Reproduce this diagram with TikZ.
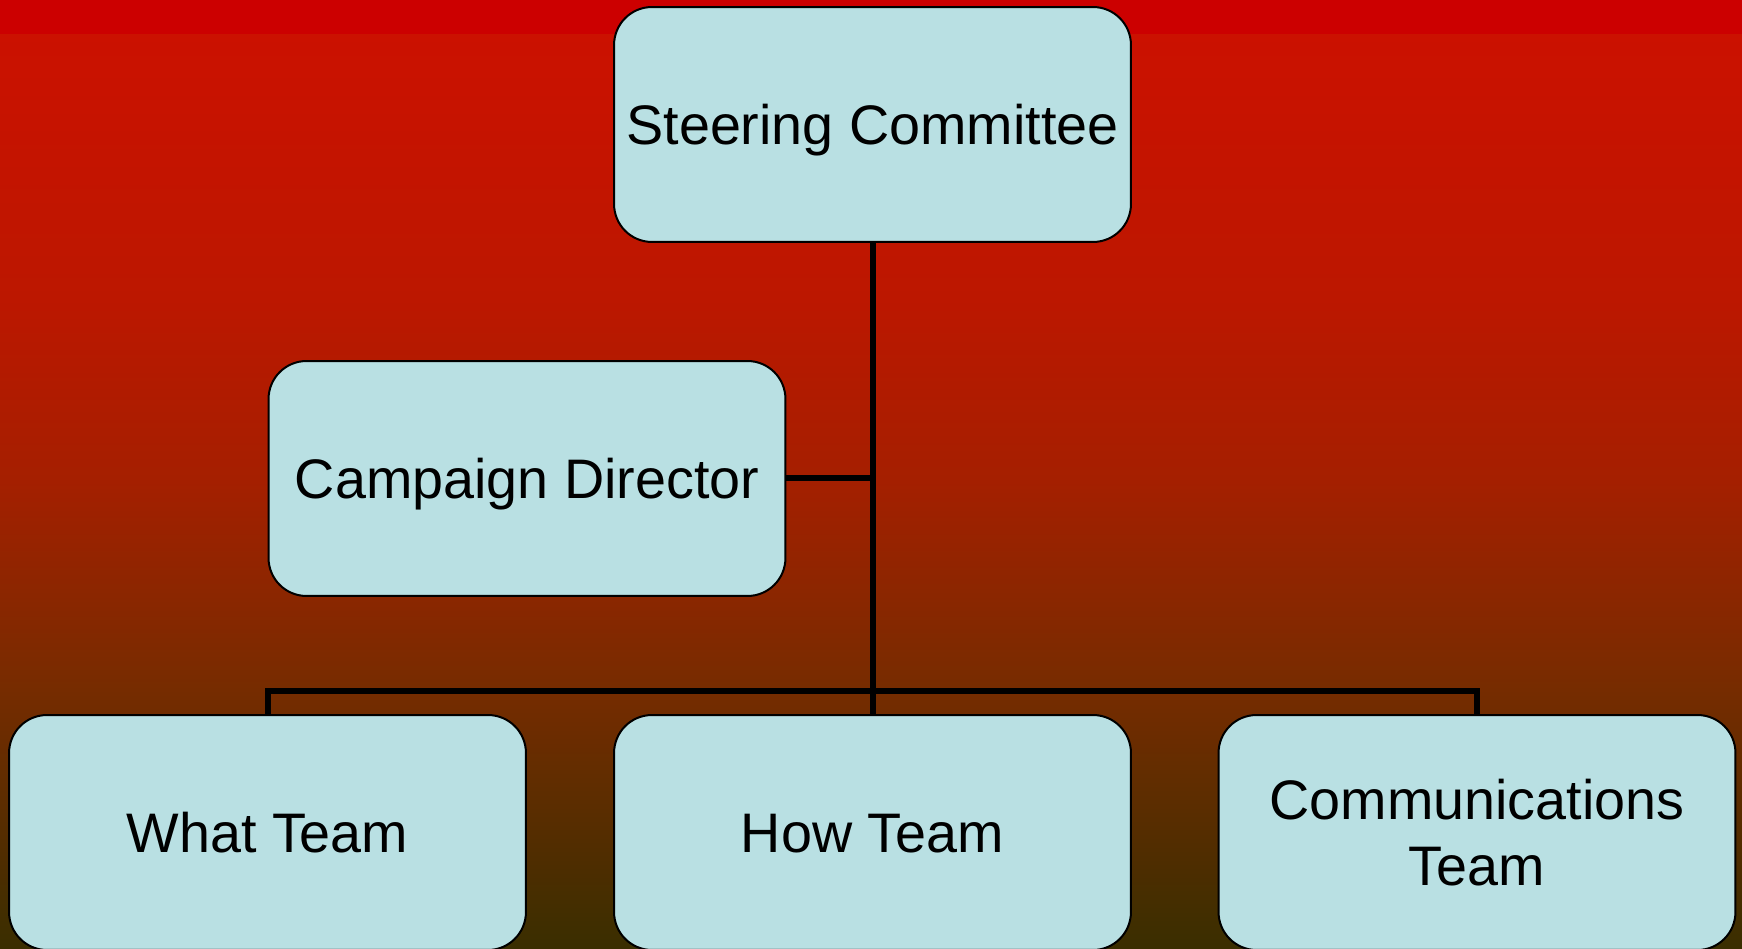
\documentclass[tikz,border=0pt]{standalone}
\usepackage{fontspec}
\setmainfont{Liberation Sans}
\definecolor{boxfill}{RGB}{185,224,227}
\definecolor{bandred}{RGB}{204,0,0}
\definecolor{gA}{RGB}{203,17,0}
\definecolor{gB}{RGB}{188,23,0}
\definecolor{gC}{RGB}{165,31,0}
\definecolor{gD}{RGB}{118,44,0}
\definecolor{gE}{RGB}{58,46,0}
\begin{document}
\begin{tikzpicture}[x=0.02cm,y=-0.02cm,
  orgbox/.style={draw=black,line width=0.04cm,fill=boxfill,rounded corners=0.76cm,
    minimum width=10.34cm,minimum height=4.7cm,align=center,inner sep=0pt,
    font=\fontsize{31.7}{38}\selectfont},
  oneline/.style={text height=0.82cm,text depth=0pt},
  link/.style={draw=black,line width=0.12cm}]
\useasboundingbox (0,0) rectangle (1742,949);
% background
\shade[top color=gA,bottom color=gB] (0,33) rectangle (1742,300);
\shade[top color=gB,bottom color=gC] (0,299) rectangle (1742,478);
\shade[top color=gC,bottom color=gD] (0,477) rectangle (1742,690);
\shade[top color=gD,bottom color=gE] (0,689) rectangle (1742,949);
\fill[bandred] (0,0) rectangle (1742,34);
% nodes
\node[orgbox,oneline] (sc) at (872.5,124.5) {Steering Committee};
\node[orgbox,oneline] (cd) at (527,478.5) {Campaign Director};
\node[orgbox,oneline] (wt) at (267.5,832.5) {What Team};
\node[orgbox,oneline] (ht) at (872.5,832.5) {How Team};
\node[orgbox] (ct) at (1477,832.5) {Communications\\Team};
\coordinate (bus) at (872.5,691);
% connectors
\draw[link] (sc.south) -- (ht.north);
\draw[link] (cd.east) -- (cd.east -| sc.south);
\draw[link] (wt.north) |- (bus) -| (ct.north);
\end{tikzpicture}
\end{document}
